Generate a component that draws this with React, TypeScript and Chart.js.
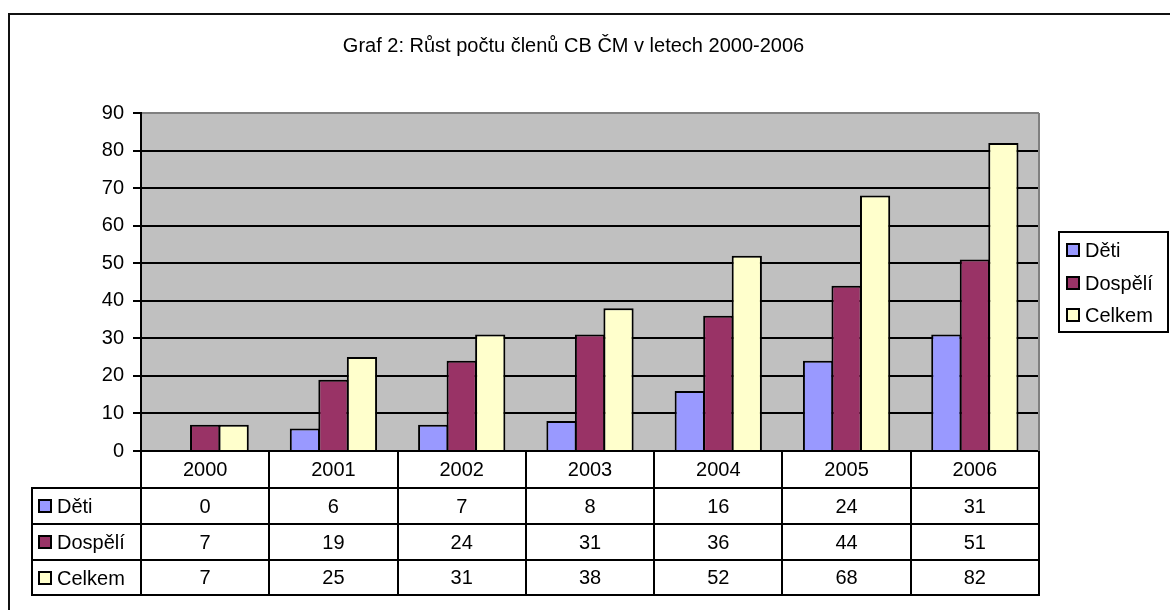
import React, { useEffect, useRef } from "react";
import { Chart, registerables } from "chart.js";

Chart.register(...registerables);

const years = ["2000", "2001", "2002", "2003", "2004", "2005", "2006"];
const detiValues = [0, 6, 7, 8, 16, 24, 31];
const dospeliValues = [7, 19, 24, 31, 36, 44, 51];
const celkemValues = [7, 25, 31, 38, 52, 68, 82];
const seriesLabels = ["Děti", "Dospělí", "Celkem"];
const seriesColors = ["#9999FF", "#993366", "#FFFFCC"];
const titleText = "Graf 2: Růst počtu členů CB ČM v letech 2000-2006";
const yMax = 90;
const yStep = 10;

const FONT = "20px 'Liberation Sans', Arial, sans-serif";

const decorPlugin = {
  id: "decor",
  beforeDraw(chart: any) {
    const { ctx, chartArea } = chart;
    ctx.save();
    ctx.fillStyle = "#ffffff";
    ctx.fillRect(0, 0, chart.width, chart.height);
    ctx.fillStyle = "#C0C0C0";
    ctx.fillRect(chartArea.left, chartArea.top, chartArea.right - chartArea.left, chartArea.bottom - chartArea.top);
    ctx.restore();
  },
  afterDraw(chart: any) {
    const { ctx, chartArea } = chart;
    const xs = chart.scales.x;
    const seriesData = [detiValues, dospeliValues, celkemValues];
    ctx.save();
    // right plot border (gray)
    ctx.strokeStyle = "#808080";
    ctx.lineWidth = 2;
    ctx.beginPath();
    ctx.moveTo(Math.round(chartArea.right), chartArea.top);
    ctx.lineTo(Math.round(chartArea.right), chartArea.bottom);
    ctx.stroke();

    // outer frame
    ctx.strokeStyle = "#111";
    ctx.lineWidth = 2;
    ctx.strokeRect(9, 14, 1400, 1000);

    // title
    ctx.fillStyle = "#000";
    ctx.font = FONT;
    ctx.textAlign = "center";
    ctx.textBaseline = "middle";
    ctx.fillText(titleText, 573.5, 46);

    // legend
    ctx.lineWidth = 2;
    ctx.strokeStyle = "#000";
    ctx.strokeRect(1059, 232, 109, 100);
    const legY = [250, 283, 315];
    seriesLabels.forEach((lab, i) => {
      ctx.fillStyle = seriesColors[i];
      ctx.fillRect(1067, legY[i] - 6, 12, 12);
      ctx.lineWidth = 2;
      ctx.strokeStyle = "#000";
      ctx.strokeRect(1067, legY[i] - 6, 12, 12);
      ctx.fillStyle = "#000";
      ctx.textAlign = "left";
      ctx.fillText(lab, 1085, legY[i] + 1);
    });

    // data table
    const top = Math.round(chartArea.bottom);
    const rowEdges = [top, top + 37, top + 73, top + 109, top + 144];
    const colW = (chartArea.right - chartArea.left) / years.length;
    const labelLeft = 32;
    const right = Math.round(chartArea.right);
    ctx.strokeStyle = "#000";
    ctx.lineWidth = 2;
    ctx.beginPath();
    for (let r = 1; r < rowEdges.length; r++) {
      ctx.moveTo(labelLeft - 1, rowEdges[r]);
      ctx.lineTo(right + 1, rowEdges[r]);
    }
    ctx.moveTo(labelLeft, rowEdges[1]);
    ctx.lineTo(labelLeft, rowEdges[4]);
    for (let i = 0; i <= years.length; i++) {
      const x = Math.round(chartArea.left + i * colW);
      ctx.moveTo(x, rowEdges[0]);
      ctx.lineTo(x, rowEdges[4]);
    }
    ctx.stroke();

    ctx.fillStyle = "#000";
    ctx.font = FONT;
    ctx.textAlign = "center";
    ctx.textBaseline = "middle";
    years.forEach((yr, i) => {
      const cx = xs.getPixelForValue(i);
      ctx.fillText(yr, cx, (rowEdges[0] + rowEdges[1]) / 2 + 1);
      seriesData.forEach((arr, s) => {
        ctx.fillText(String(arr[i]), cx, (rowEdges[s + 1] + rowEdges[s + 2]) / 2 + 1);
      });
    });
    seriesLabels.forEach((lab, s) => {
      const cy = Math.round((rowEdges[s + 1] + rowEdges[s + 2]) / 2);
      ctx.fillStyle = seriesColors[s];
      ctx.fillRect(39, cy - 6, 12, 12);
      ctx.lineWidth = 2;
      ctx.strokeStyle = "#000";
      ctx.strokeRect(39, cy - 6, 12, 12);
      ctx.fillStyle = "#000";
      ctx.textAlign = "left";
      ctx.fillText(lab, 57, cy + 1);
    });
    ctx.restore();
  },
};

export default function App() {
  const ref = useRef<HTMLCanvasElement>(null);
  useEffect(() => {
    document.body.style.margin = "0";
    if (!ref.current) return;
    const datasets = [detiValues, dospeliValues, celkemValues].map((d, i) => ({
      label: seriesLabels[i],
      data: d,
      backgroundColor: seriesColors[i],
      borderColor: "#000",
      borderWidth: 2,
      categoryPercentage: 0.667,
      barPercentage: 1.06,
    }));
    const chart = new Chart(ref.current, {
      type: "bar",
      data: { labels: years, datasets },
      options: {
        animation: false,
        responsive: false,
        layout: { padding: { left: 0, top: 113, right: 131, bottom: 159 } },
        plugins: { legend: { display: false }, title: { display: false }, tooltip: { enabled: false } },
        scales: {
          x: {
            grid: { display: false },
            border: { display: true, color: "#000", width: 2 },
            ticks: { display: false },
            afterFit: (s: any) => { s.height = 0; },
          },
          y: {
            min: 0,
            max: yMax,
            ticks: {
              stepSize: yStep,
              color: "#000",
              padding: 9,
              font: { family: "'Liberation Sans', Arial, sans-serif", size: 20 },
            },
            grid: {
              color: (c: any) => (c.tick && c.tick.value === yMax ? "#808080" : "#000"),
              lineWidth: 2,
              tickColor: "#000",
              tickLength: 8,
            },
            border: { display: true, color: "#000", width: 2 },
            afterFit: (s: any) => { s.width = 141; },
          },
        },
      },
      plugins: [decorPlugin],
    });
    return () => chart.destroy();
  }, []);
  return (
    <div style={{ position: "absolute", left: 0, top: 0, width: 1170, height: 610 }}>
      <canvas ref={ref} width={1170} height={610} />
    </div>
  );
}
